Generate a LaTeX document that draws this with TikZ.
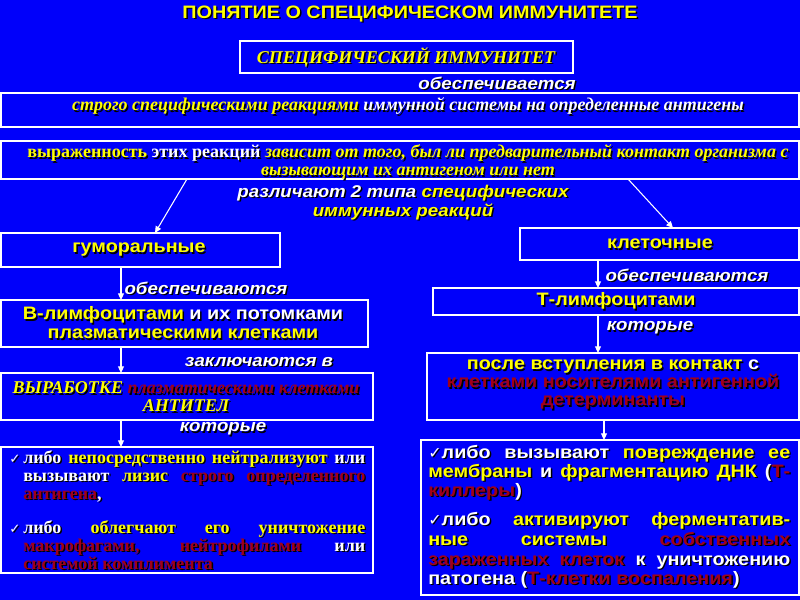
\documentclass[tikz,border=0pt]{standalone}
\usepackage{fontspec}
\usepackage{graphicx}
\setmainfont{Liberation Serif}
\setsansfont{Liberation Sans}[FakeStretch=1.1]
\newfontfamily\chkfont{DejaVu Sans}
\usetikzlibrary{arrows.meta,calc}
\definecolor{bg}{RGB}{0,0,250}
\definecolor{yel}{RGB}{255,255,0}
\definecolor{dred}{RGB}{160,0,25}
\newif\ifshd
\newcommand\tc[2]{\ifshd#2\else\textcolor{#1}{#2}\fi}
\newcommand\stx[4][]{%
 \node[#1,text=black,xshift=1.1pt,yshift=-1.1pt] (#2-s) at (#3) {\global\shdtrue#4};
 \node[#1] (#2) at (#3) {\global\shdfalse#4};}
\newcommand\bx[5]{\node[boxst,anchor=north west,minimum width={(#4-#2)*0.75pt},minimum height={(#5-#3)*0.75pt}] (#1) at (#2,#3) {};}
\newcommand\ck[1]{{\chkfont\fontsize{#1}{#1}\selectfont ✓}}
\newcommand\jl[2]{\makebox[#1][s]{#2}}
\newcommand\SB[2]{\sffamily\bfseries\fontsize{#1}{#2}\selectfont}
\newcommand\SBI[2]{\sffamily\bfseries\itshape\fontsize{#1}{#2}\selectfont}
\newcommand\TB[2]{\rmfamily\bfseries\fontsize{#1}{#2}\selectfont}
\newcommand\TBI[2]{\rmfamily\bfseries\itshape\fontsize{#1}{#2}\selectfont}
\begin{document}
\begin{tikzpicture}[x=0.75pt,y=-0.75pt,
 boxst/.style={draw=white,line width=1.1pt,inner sep=0,outer sep=0},
 arr/.style={white,line width=0.8pt,-{Triangle[length=5pt,width=4.5pt]}},
 ttl/.style={font=\SB{13.5}{15},text=yel,inner sep=0},
 lab/.style={font=\SBI{12.75}{14.25},text=white,inner sep=0,align=center},
 sb/.style={font=\SB{13.5}{14.25},text=white,inner sep=0,align=center},
 tbi/.style={font=\TBI{13.5}{13.5},text=white,inner sep=0,align=center},
 tbl/.style={font=\TB{13.5}{13.5},text=white,inner sep=0,anchor=base west},
 rbl/.style={font=\SB{13.5}{14},text=white,inner sep=0,anchor=base west}]
\fill[bg] (0,0) rectangle (800,600);
\useasboundingbox (0,0) rectangle (800,600);
% boxes
\bx{b1}{240}{41}{573}{73}
\bx{b2}{1}{93}{799}{127}
\bx{b3}{1}{141}{799}{179}
\bx{gum}{1}{233}{280}{267}
\bx{kl}{520}{228}{799}{260}
\bx{bl}{1}{300}{368}{347}
\bx{tl}{433}{288}{799}{315}
\bx{vy}{1}{373}{373}{420}
\bx{ps}{427}{353}{799}{420}
\bx{lb}{1}{447}{373}{573}
\bx{rb}{421}{440}{799}{595}
% connectors
\draw[arr] ($(b3.south west)+(186,0)$) -- ($(gum.north west)+(154,0)$);
\draw[arr] ($(b3.south west)+(627,0)$) -- ($(kl.north west)+(153,0)$);
\draw[arr] ($(gum.south west)+(120,0)$) -- ($(bl.north west)+(120,0)$);
\draw[arr] ($(bl.south west)+(120,0)$) -- ($(vy.north west)+(120,0)$);
\draw[arr] ($(vy.south west)+(120,0)$) -- ($(lb.north west)+(120,0)$);
\draw[arr] ($(kl.south west)+(78,0)$) -- ($(tl.north west)+(165,0)$);
\draw[arr] ($(tl.south west)+(165,0)$) -- ($(ps.north west)+(171,0)$);
\draw[arr] ($(ps.south west)+(177,0)$) -- ($(rb.north west)+(183,0)$);
% texts
\stx[ttl]{title}{410,14}{ПОНЯТИЕ О СПЕЦИФИЧЕСКОМ ИММУНИТЕТЕ}
\stx[tbi,text=yel]{t1}{406,57}{СПЕЦИФИЧЕСКИЙ ИММУНИТЕТ}
\stx[lab]{l1}{497,83}{обеспечивается}
\stx[tbi]{t2}{408,106}{\tc{yel}{строго специфическими реакциями} иммунной системы на определенные антигены}
\stx[tbi]{t3}{408,162}{\textup{\tc{yel}{выраженность} этих реакций} \tc{yel}{зависит от того, был ли предварительный контакт организма с}\\\tc{yel}{вызывающим их антигеном или нет}}
\stx[lab]{l2}{403,202.5}{различают 2 типа \tc{yel}{специфических}\\\tc{yel}{иммунных реакций}}
\stx[sb,text=yel]{tg}{139,250}{гуморальные}
\stx[sb,text=yel]{tk}{660,244}{клеточные}
\stx[lab]{l3}{206,288}{обеспечиваются}
\stx[lab]{l4}{687,275}{обеспечиваются}
\stx[sb]{tbl}{183,323}{\tc{yel}{В-лимфоцитами} и их потомками\\\tc{yel}{плазматическими клетками}}
\stx[sb,text=yel]{ttl}{616,301}{Т-лимфоцитами}
\stx[lab]{l5}{650,328}{которые}
\stx[lab]{l6}{259,362}{заключаются в}
\stx[sb,font=\SB{13.5}{13.5}]{tps}{613,385}{\tc{yel}{после вступления в контакт} с\\\tc{dred}{клетками носителями антигенной}\\\tc{dred}{детерминанты}}
\stx[tbi,text=yel,font=\TBI{13.5}{13.5}]{tvy}{186,397}{ВЫРАБОТКЕ \tc{dred}{плазматическими клетками}\\АНТИТЕЛ}
\stx[lab]{l7}{223,429}{которые}
% bottom left list
\stx[tbl]{a1}{23,463}{\llap{\ck{10}\kern2pt}\jl{256.5pt}{либо \tc{yel}{непосредственно нейтрализуют} или}}
\stx[tbl]{a2}{23,481.5}{\jl{256.5pt}{вызывают \tc{yel}{лизис} \tc{dred}{строго определенного}}}
\stx[tbl]{a3}{23,499.5}{\tc{dred}{антигена},}
\stx[tbl]{a4}{23,533}{\llap{\ck{10}\kern2pt}\jl{256.5pt}{либо \tc{yel}{облегчают его уничтожение}}}
\stx[tbl]{a5}{23,551}{\jl{256.5pt}{\tc{dred}{макрофагами, нейтрофилами} или}}
\stx[tbl]{a6}{23,569}{\tc{dred}{системой комплимента}}
% bottom right list
\stx[rbl]{r1}{428,458.5}{\jl{271.5pt}{\ck{12}либо вызывают \tc{yel}{повреждение ее}}}
\stx[rbl]{r2}{428,477.5}{\jl{271.5pt}{\tc{yel}{мембраны} и \tc{yel}{фрагментацию ДНК} (\tc{dred}{Т-}}}
\stx[rbl]{r3}{428,496.5}{\tc{dred}{киллеры})}
\stx[rbl]{r4}{428,525.5}{\jl{271.5pt}{\ck{12}либо \tc{yel}{активируют ферментатив-}}}
\stx[rbl]{r5}{428,545}{\jl{271.5pt}{\tc{yel}{ные системы} \tc{dred}{собственных}}}
\stx[rbl]{r6}{428,565}{\jl{271.5pt}{\tc{dred}{зараженных клеток} к уничтожению}}
\stx[rbl]{r7}{428,584.5}{патогена (\tc{dred}{Т-клетки воспаления})}
\end{tikzpicture}
\end{document}
